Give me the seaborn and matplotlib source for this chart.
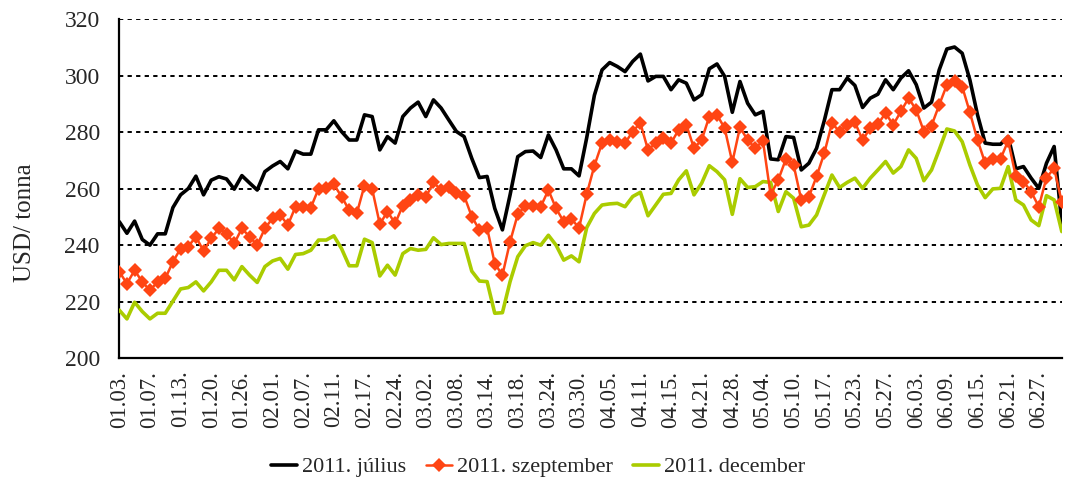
import matplotlib
matplotlib.use("Agg")
import pandas as pd
import matplotlib.pyplot as plt
import seaborn as sns

# Tick labels (every 4th trading day)
tick_labels = ['01.03.', '01.07.', '01.13.', '01.20.', '01.26.', '02.01.', '02.07.', '02.11.',
               '02.17.', '02.24.', '03.02.', '03.08.', '03.14.', '03.18.', '03.24.', '03.30.',
               '04.05.', '04.11.', '04.15.', '04.21.', '04.28.', '05.04.', '05.10.', '05.17.',
               '05.23.', '05.27.', '06.03.', '06.09.', '06.15.', '06.21.', '06.27.']

# USD/tonna
julius = [248.3, 244.2, 248.5, 242, 240, 244, 244, 253.3, 257.8, 260, 264.4, 257.8, 263, 264.2, 263.4,
          259.8, 264.6, 262, 259.5, 266, 268, 269.6, 267, 273.3, 272.2, 272.2, 280.8, 280.8, 284, 280.2,
          277.2, 277.2, 286.1, 285.5, 273.7, 278.4, 276.1, 285.5, 288.5, 290.6, 285.5, 291.4, 288.5, 284.3,
          280.2, 278.4, 270.7, 263.9, 264.3, 253, 245.4, 257.8, 271.3, 273.1, 273.3, 271, 279, 273.7, 267,
          267, 264.5, 278, 293, 302, 304.6, 303.2, 301.4, 305, 307.6, 298.1, 299.7, 299.7, 295, 298.5,
          297.3, 291.4, 293.2, 302.4, 304.1, 299.7, 287, 297.9, 290.2, 286.1, 287.3, 270.5, 270.2, 278.4,
          278.1, 266.6, 269, 274.3, 284, 295, 295, 299.1, 296.5, 288.7, 292, 293.4, 298.5, 295, 299.1,
          301.7, 296.8, 288.5, 290.6, 302, 309.4, 310.1, 307.9, 298.5, 286.1, 276.1, 275.7, 275.7, 278.4,
          267, 267.8, 263.7, 260.1, 269, 274.9, 247.7]

szeptember = [230.6, 226.4, 231.1, 227, 224, 227, 228.2, 234.1, 238.8, 239.5, 243, 237.9, 242.4, 245.9,
              244.1, 240.6, 245.9, 243, 240, 245.9, 249.5, 250.7, 247.1, 253.6, 253.6, 253.3, 259.9, 260.1,
              261.5, 257.2, 252.4, 251.3, 261.1, 259.9, 247.4, 251.9, 247.7, 254, 256, 257.8, 257, 262.2,
              259.5, 260.7, 258.3, 257.5, 250.1, 245.4, 246.1, 233.5, 229.4, 241.2, 250.9, 254, 254, 253.6,
              259.5, 253, 248.3, 249.3, 246.1, 258, 268.1, 276.1, 277.2, 276.6, 276.1, 280.2, 283.2, 273.7,
              276.1, 277.8, 276.1, 280.8, 282.6, 274.3, 277.2, 285.5, 286.1, 281.4, 269.3, 281.7, 277.2,
              274.3, 276.9, 257.8, 263.1, 270.5, 268.4, 256, 257.2, 264.3, 272.5, 283.1, 280.2, 282.6, 283.5,
              277.2, 281.4, 282.8, 286.7, 282.6, 287.3, 292, 287.9, 280.2, 282.3, 289.6, 296.7, 298.1, 296.1,
              287, 277.2, 269, 270.5, 270.5, 276.9, 264.3, 262.5, 258.9, 253.6, 263.9, 267.2, 255.2]

december = [217, 213.9, 219.8, 216.5, 213.9, 215.9, 215.9, 220.2, 224.5, 225, 227, 223.8, 227, 231.1, 231.1,
            227.7, 232.4, 229.4, 226.8, 232.4, 234.4, 235.3, 231.5, 236.7, 237, 238.2, 241.8, 241.8, 243.3,
            238.8, 232.7, 232.7, 242.1, 240.9, 229.1, 232.9, 229.4, 237, 238.8, 238.2, 238.5, 242.6, 240.2,
            240.6, 240.6, 240.6, 230.8, 227.3, 227.1, 215.9, 216.1, 227.1, 235.9, 239.8, 240.9, 240, 243.5,
            240, 234.7, 236.2, 234.1, 246.2, 251.2, 254.2, 254.6, 254.8, 253.6, 257.2, 258.7, 250.4, 254.2,
            258, 258.3, 263.1, 266.3, 257.8, 261.9, 268.1, 266, 263.1, 250.9, 263.5, 260.4, 260.7, 262.5,
            262.2, 251.9, 258.9, 256.6, 246.5, 247.1, 250.7, 257.8, 264.8, 260.4, 262.2, 263.7, 260.1, 263.7,
            266.6, 269.6, 265.5, 267.8, 273.7, 270.7, 262.8, 266.6, 273.7, 281.1, 280.4, 276.6, 268.4, 261.3,
            256.8, 259.9, 260.1, 267.8, 256, 254.2, 248.9, 246.9, 257.5, 256, 244.8]

n = len(julius)
df = pd.DataFrame({'idx': range(n), 'julius': julius, 'szeptember': szeptember, 'december': december})

sns.set_style("white")
plt.rcParams['font.family'] = ['Liberation Serif', 'DejaVu Serif']

fig, ax = plt.subplots(figsize=(10.65, 4.88), dpi=100)
fig.subplots_adjust(left=0.112, right=0.997, top=0.961, bottom=0.266)

sns.lineplot(data=df, x='idx', y='julius', ax=ax, color='black', lw=2.6,
             label='2011. július', zorder=3)
sns.lineplot(data=df, x='idx', y='szeptember', ax=ax, color='#FF4513', lw=1.8,
             marker='D', markersize=7, markeredgewidth=0, label='2011. szeptember', zorder=5)
sns.lineplot(data=df, x='idx', y='december', ax=ax, color='#AACC00', lw=2.6,
             label='2011. december', zorder=4)

ax.set_ylim(200, 320)
ax.set_xlim(0, n - 1)
ax.set_yticks(range(200, 321, 20))
ax.yaxis.grid(True, color='black', linestyle=(0, (2.2, 2.2)), linewidth=1.4)
ax.xaxis.grid(False)
ax.set_axisbelow(True)

labels = [''] * n
for k, lab in enumerate(tick_labels):
    labels[4 * k] = lab
ax.set_xticks(range(n))
ax.set_xticklabels(labels, rotation=90, fontsize=16.5)
ax.tick_params(axis='x', direction='out', length=6, width=1.2, color='black', pad=3)
ax.tick_params(axis='y', direction='out', length=6, width=1.2, color='black', labelsize=17, pad=8)

for side in ['top', 'right']:
    ax.spines[side].set_visible(False)
for side in ['left', 'bottom']:
    ax.spines[side].set_color('black')
    ax.spines[side].set_linewidth(1.6)

ax.set_xlabel('')
ax.set_ylabel('USD/ tonna', fontsize=18)
ax.yaxis.set_label_coords(-0.088, 0.40)

ax.legend(loc='center', bbox_to_anchor=(0.505, 0.043), bbox_transform=fig.transFigure,
          ncol=3, frameon=False, fontsize=16, handlelength=1.2, handletextpad=0.2,
          columnspacing=0.9)

plt.savefig('out.png', dpi=100)
